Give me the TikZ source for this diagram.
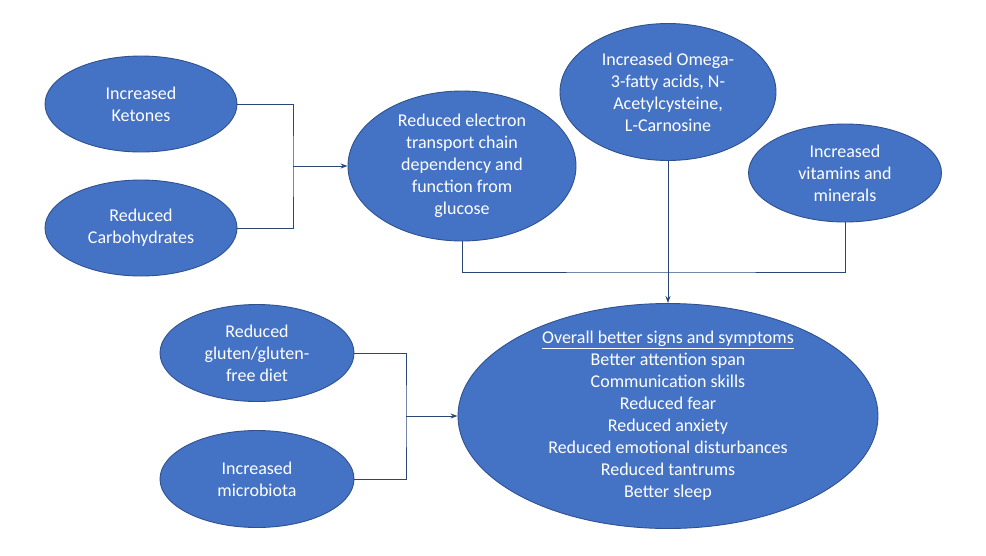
\documentclass[tikz,border=0pt]{standalone}
\usepackage{fontspec}
\setmainfont{Carlito}
\usepackage{xcolor}
\usetikzlibrary{positioning,shapes.geometric,arrows.meta}
\definecolor{bubblefill}{HTML}{4472C4}
\definecolor{bubbleline}{HTML}{2F528F}
\definecolor{linkcol}{HTML}{2B4675}

\begin{document}
\begin{tikzpicture}[x=1pt,y=-1pt,>={Stealth[length=7pt,width=5pt]},
  bubble/.style={ellipse,draw=bubbleline,fill=bubblefill,line width=0.9pt,inner sep=0pt},
  bubbletext/.style={text=white,align=center,font=\fontsize{18}{22}\selectfont},
  link/.style={draw=linkcol,line width=1pt}]
\useasboundingbox[fill=white] (0,0) rectangle (986,555);
% diet inputs
\node[bubble,minimum width=192pt,minimum height=96pt] (ket) at (141,104) {};
\node[bubbletext] (ketlbl) at (ket) {Increased\\Ketones};
\node[bubble,minimum width=192pt,minimum height=96pt] (carb) at (141,228) {};
\node[bubbletext] (carblbl) at (carb) {Reduced\\Carbohydrates};
\node[bubble,minimum width=228pt,minimum height=150pt] (etc) at (462,166) {};
\node[bubbletext] (etclbl) at (etc) {Reduced electron\\transport chain\\dependency and\\function from\\glucose};
\node[bubble,minimum width=216pt,minimum height=137pt] (omega) at (668,92) {};
\node[bubbletext] (omegalbl) at (omega) {Increased Omega-\\3-fatty acids, N-\\Acetylcysteine,\\L-Carnosine};
\node[bubble,minimum width=193pt,minimum height=98pt] (vit) at (845,173) {};
\node[bubbletext] (vitlbl) at (vit) {Increased\\vitamins and\\minerals};
\node[bubble,minimum width=194pt,minimum height=97pt] (glu) at (257,353) {};
\node[bubbletext] (glulbl) at (glu) {Reduced\\gluten/gluten-\\free diet};
\node[bubble,minimum width=194pt,minimum height=97pt] (mic) at (257,479) {};
\node[bubbletext] (miclbl) at (mic) {Increased\\microbiota};
% outcome
\node[bubble,minimum width=420pt,minimum height=225pt] (overall) at (668,416) {};
\node[bubbletext] (overalllbl) at (overall) {\underline{Overall better signs and symptoms}\\Better attention span\\Communication skills\\Reduced fear\\Reduced anxiety\\Reduced emotional disturbances\\Reduced tantrums\\Better sleep};
% connectors
\coordinate (ketjoin) at (293,166);
\draw[link] (ket.east) -| (ketjoin) |- (carb.east);
\draw[link,->] (ketjoin) -- (etc.west);
\coordinate (topjoin) at (668,272);
\draw[link] (etc.south) |- (topjoin) -| (vit.south);
\draw[link,->] (omega.south) -- (overall.north);
\coordinate (gutjoin) at (406,416);
\draw[link] (glu.east) -| (gutjoin) |- (mic.east);
\draw[link,->] (gutjoin) -- (overall.west);
\end{tikzpicture}
\end{document}
